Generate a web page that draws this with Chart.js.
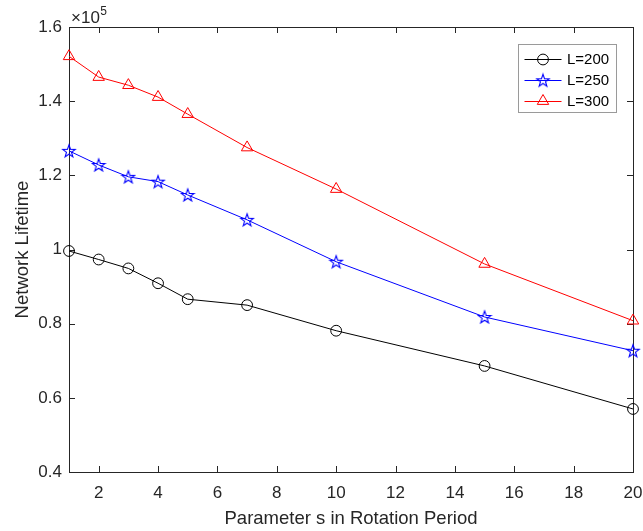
<!DOCTYPE html>
<html><head><meta charset="utf-8">
<script src="https://cdn.jsdelivr.net/npm/chart.js@4/dist/chart.umd.min.js"></script>
<style>html,body{margin:0;padding:0;background:#fff;}canvas{display:block;}</style>
</head><body>
<canvas id="c" width="643" height="531"></canvas>
<script>
// ---- data (values in units of 1e5) ----
const xValues = [1, 2, 3, 4, 5, 7, 10, 15, 20];
const seriesL200 = [0.996, 0.973, 0.949, 0.909, 0.866, 0.850, 0.781, 0.686, 0.570];
const seriesL250 = [1.266, 1.228, 1.196, 1.183, 1.147, 1.080, 0.967, 0.818, 0.727];
const seriesL300 = [1.521, 1.465, 1.443, 1.411, 1.365, 1.275, 1.163, 0.961, 0.808];
const seriesNames = ['L=200', 'L=250', 'L=300'];
const xTicks = [2, 4, 6, 8, 10, 12, 14, 16, 18, 20];
const yTicks = [0.4, 0.6, 0.8, 1.0, 1.2, 1.4, 1.6];
const yTickLabels = ['0.4', '0.6', '0.8', '1', '1.2', '1.4', '1.6'];
const xTitle = 'Parameter s in Rotation Period';
const yTitle = 'Network Lifetime';
const expBase = '\u00d710';
const expPow = '5';

const FONT = '"Liberation Sans", Arial, Helvetica, sans-serif';
const AX = '#262626';

function makeStar(color) {
  const s = 16, c = document.createElement('canvas');
  c.width = s; c.height = s;
  const g = c.getContext('2d');
  g.strokeStyle = color; g.lineWidth = 1.1;
  const R = 6.6, r = R * 0.40, cx = s / 2, cy = s / 2 + 0.6;
  g.beginPath();
  for (let i = 0; i < 10; i++) {
    const a = -Math.PI / 2 + i * Math.PI / 5;
    const rr = (i % 2) ? r : R;
    const px = cx + rr * Math.cos(a), py = cy + rr * Math.sin(a);
    if (i === 0) g.moveTo(px, py); else g.lineTo(px, py);
  }
  g.closePath(); g.stroke();
  return c;
}

const zip = ys => xValues.map((x, i) => ({x: x, y: ys[i]}));

const datasets = [
  {label: seriesNames[0], data: zip(seriesL200), borderColor: '#000000', pointStyle: 'circle', pointRadius: 5.4, pointBorderWidth: 1},
  {label: seriesNames[1], data: zip(seriesL250), borderColor: '#0000ff', pointStyle: makeStar('#0000ff'), pointRadius: 6, pointBorderWidth: 1},
  {label: seriesNames[2], data: zip(seriesL300), borderColor: '#ff0000', pointStyle: 'triangle', pointRadius: 6.6, pointBorderWidth: 1}
].map(d => Object.assign(d, {
  backgroundColor: 'rgba(0,0,0,0)', pointBackgroundColor: 'rgba(0,0,0,0)',
  pointBorderColor: d.borderColor, borderWidth: 1, tension: 0, clip: false, fill: false
}));

const framePlugin = {
  id: 'frame',
  beforeDatasetsDraw(chart) {
    const {ctx, chartArea: a, scales} = chart;
    ctx.save();
    ctx.strokeStyle = AX; ctx.lineWidth = 1;
    const tl = 6;
    ctx.beginPath();
    xTicks.forEach(v => {
      const px = Math.round(scales.x.getPixelForValue(v)) + 0.5;
      ctx.moveTo(px, a.bottom); ctx.lineTo(px, a.bottom - tl);
      ctx.moveTo(px, a.top); ctx.lineTo(px, a.top + tl);
    });
    yTicks.forEach(v => {
      const py = Math.round(scales.y.getPixelForValue(v)) + 0.5;
      ctx.moveTo(a.left, py); ctx.lineTo(a.left + tl, py);
      ctx.moveTo(a.right, py); ctx.lineTo(a.right - tl, py);
    });
    ctx.stroke();
    ctx.strokeRect(Math.round(a.left) + 0.5, Math.round(a.top) + 0.5, Math.round(a.right - a.left), Math.round(a.bottom - a.top));
    // exponent label
    ctx.fillStyle = AX;
    ctx.textBaseline = 'alphabetic'; ctx.textAlign = 'left';
    ctx.font = '17px ' + FONT;
    ctx.fillText(expBase, a.left + 2, a.top - 4);
    const w = ctx.measureText(expBase).width;
    ctx.font = '12px ' + FONT;
    ctx.fillText(expPow, a.left + 2 + w + 0.5, a.top - 12);
    ctx.restore();
  },
  afterDraw(chart) {
    const {ctx, chartArea: a} = chart;
    ctx.save();
    const bw = 98, bh = 68;
    const bx = Math.round(a.right - 17 - bw) + 0.5, by = Math.round(a.top + 17) + 0.5;
    ctx.fillStyle = '#ffffff';
    ctx.fillRect(bx, by, bw, bh);
    ctx.strokeStyle = '#9a9a9a'; ctx.lineWidth = 1;
    ctx.strokeRect(bx, by, bw, bh);
    ctx.font = '15px ' + FONT;
    ctx.textBaseline = 'middle'; ctx.textAlign = 'left';
    chart.data.datasets.forEach((d, i) => {
      const y = by + 14.5 + i * 20.8;
      ctx.strokeStyle = d.borderColor; ctx.lineWidth = 1;
      ctx.beginPath(); ctx.moveTo(bx + 6, Math.round(y) + 0.5); ctx.lineTo(bx + 43, Math.round(y) + 0.5); ctx.stroke();
      ctx.fillStyle = 'rgba(0,0,0,0)';
      Chart.helpers.drawPoint(ctx, {pointStyle: d.pointStyle, radius: d.pointRadius, borderWidth: 1, rotation: 0}, bx + 24.5, y + 0.5);
      ctx.fillStyle = '#000000';
      ctx.fillText(d.label, bx + 48.5, y + 1);
    });
    ctx.restore();
  }
};

new Chart(document.getElementById('c').getContext('2d'), {
  type: 'line',
  data: {datasets: datasets},
  options: {
    responsive: false, animation: false, devicePixelRatio: 1,
    layout: {padding: {left: 0, right: 10, top: 27, bottom: 0}},
    plugins: {legend: {display: false}, tooltip: {enabled: false}},
    scales: {
      x: {
        type: 'linear', position: 'bottom', min: 1, max: 20,
        afterBuildTicks: s => { s.ticks = xTicks.map(v => ({value: v})); },
        afterFit: s => { s.height = 59; s.paddingLeft = 0; s.paddingRight = 0; },
        grid: {display: false, drawTicks: false}, border: {display: false},
        ticks: {color: AX, padding: 11, font: {family: FONT, size: 17}, maxRotation: 0, autoSkip: false,
                callback: v => String(v)},
        title: {display: true, text: xTitle, color: AX, font: {family: FONT, size: 18.5}, padding: {top: 0, bottom: 1}}
      },
      y: {
        type: 'linear', position: 'left', min: 0.4, max: 1.6,
        afterBuildTicks: s => { s.ticks = yTicks.map(v => ({value: v})); },
        afterFit: s => { s.width = 69; s.paddingTop = 0; s.paddingBottom = 0; },
        grid: {display: false, drawTicks: false}, border: {display: false},
        ticks: {color: AX, padding: 7, font: {family: FONT, size: 17}, autoSkip: false,
                callback: v => { const i = yTicks.findIndex(t => Math.abs(t - v) < 1e-9); return i >= 0 ? yTickLabels[i] : ''; }},
        title: {display: true, text: yTitle, color: AX, font: {family: FONT, size: 18.5}, padding: {top: 12, bottom: 0}}
      }
    }
  },
  plugins: [framePlugin]
});
</script>
</body></html>
